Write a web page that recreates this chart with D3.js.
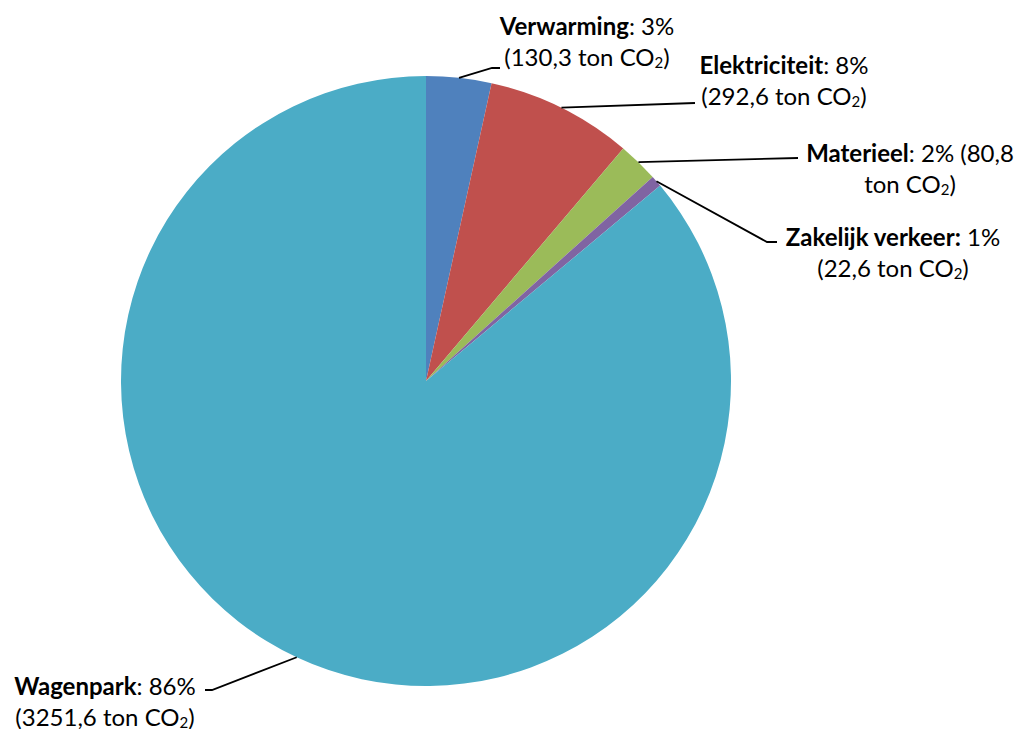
<!DOCTYPE html>
<html><head><meta charset="utf-8">
<script src="https://cdn.jsdelivr.net/npm/d3@7"></script>
<style>
html,body{margin:0;padding:0;background:#fff;}
svg{display:block;}
text{font-family:Lato,"Open Sans",sans-serif;font-size:24px;fill:#000;}
</style></head>
<body>
<script>
const categories = ["Verwarming","Elektriciteit","Materieel","Zakelijk verkeer","Wagenpark"];
const values = [130.3, 292.6, 80.8, 22.6, 3251.6];
const percentLabels = ["3%","8%","2%","1%","86%"];
const valueLabels = ["130,3","292,6","80,8","22,6","3251,6"];
const colors = ["#4F81BD","#C0504D","#9BBB59","#8064A2","#4BACC6"];

// label layout (text centre x, first-line y, elbow point, end point)
const labelLayout = [
  {cx:587, y:25,  elbow:[492,68],  end:[500,68],  split:"after-pct", boldColon:false},
  {cx:784, y:64,  elbow:[695,103], end:[695,103], split:"after-pct", boldColon:false},
  {cx:910, y:152, elbow:[798,158], end:[798,158], split:"mid",       boldColon:false},
  {cx:893, y:236, elbow:[767,242], end:[777,242], split:"after-pct", boldColon:true},
  {cx:105, y:685, elbow:[212,690], end:[205,690], split:"after-pct", boldColon:false}
];

const W = 1027, H = 729;
const cx = 426, cy = 381, R = 305;
const svg = d3.select("body").append("svg").attr("width",W).attr("height",H);

const data = categories.map((c,i)=>({name:c, value:values[i], pct:percentLabels[i], val:valueLabels[i], color:colors[i], lay:labelLayout[i]}));
const pie = d3.pie().sort(null).value(d=>d.value);
const arcs = pie(data);
const arc = d3.arc().innerRadius(0).outerRadius(R);

const g = svg.append("g").attr("transform",`translate(${cx},${cy})`);
g.selectAll("path").data(arcs).join("path")
  .attr("d",arc).attr("fill",d=>d.data.color);

// leader lines
arcs.forEach(a=>{
  const m = (a.startAngle+a.endAngle)/2;
  const p0 = [cx + R*Math.sin(m), cy - R*Math.cos(m)];
  const L = a.data.lay;
  svg.append("polyline")
    .attr("points",[p0,L.elbow,L.end].map(p=>p.join(",")).join(" "))
    .attr("fill","none").attr("stroke","#000").attr("stroke-width",1.8);
});

// labels
function addCO2(t, prefix){
  t.append("tspan").text(prefix + "ton CO");
  t.append("tspan").attr("font-size","15px").attr("dy",6).text("2");
  t.append("tspan").attr("dy",-6).text(")");
}
arcs.forEach(a=>{
  const d = a.data, L = d.lay;
  const t1 = svg.append("text").attr("x",L.cx).attr("y",L.y).attr("text-anchor","middle").attr("dominant-baseline","central");
  t1.append("tspan").attr("font-weight","bold").text(d.name + (L.boldColon?":":""));
  const rest = (L.boldColon?" ":": ") + d.pct;
  const t2 = svg.append("text").attr("x",L.cx).attr("y",L.y+31).attr("text-anchor","middle").attr("dominant-baseline","central");
  if(L.split==="mid"){
    t1.append("tspan").text(rest + " (" + d.val);
    addCO2(t2, "");
  } else {
    t1.append("tspan").text(rest);
    t2.append("tspan").text("(" + d.val);
    addCO2(t2, " ");
  }
});
</script>
</body></html>
